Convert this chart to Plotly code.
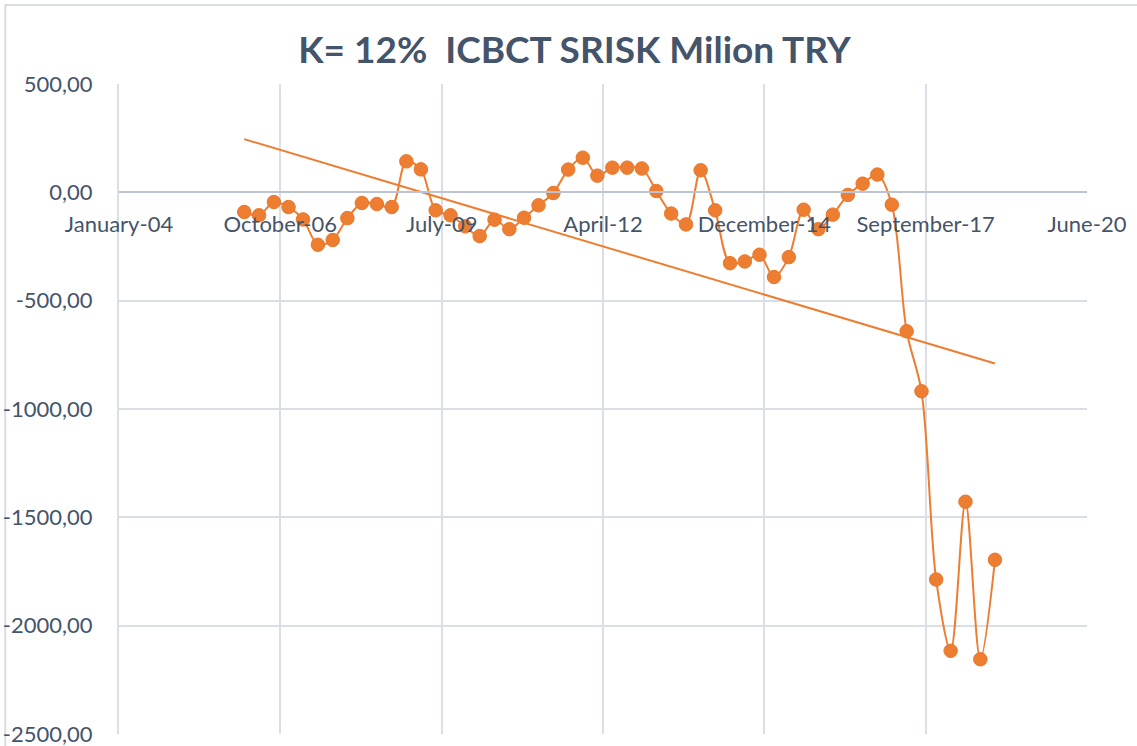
import numpy as np
import pandas as pd
import plotly.graph_objects as go

# ---- data ----
years = list(range(2006, 2019))
month_ends = ["02-28", "05-31", "08-31", "11-30"]
dates = [f"{y}-{m}" for y in years for m in month_ends]  # quarterly observations

srisk = [
    -91, -106, -45, -68, -125, -242, -220, -119, -49, -54,
    -68, 143, 106, -83, -106, -157, -202, -126, -170, -117,
    -60, -3, 105, 160, 77, 114, 114, 110, 6, -98,
    -148, 102, -83, -327, -319, -288, -391, -299, -80, -170,
    -103, -12, 40, 82, -57, -641, -918, -1787, -2116, -1428,
    -2155, -1696,
]

x_tick_dates = ["2004-01-13", "2006-10-10", "2009-07-07", "2012-04-03",
                "2014-12-30", "2017-09-26", "2020-06-23"]
x_tick_labels = ["January-04", "October-06", "July-09", "April-12",
                 "December-14", "September-17", "June-20"]

y_tick_vals = [500, 0, -500, -1000, -1500, -2000, -2500]
y_tick_labels = ["500,00", "0,00", "-500,00", "-1000,00", "-1500,00", "-2000,00", "-2500,00"]

title_text = "K= 12%  ICBCT SRISK Milion TRY"

# ---- linear trend (as Excel trendline, on date serials) ----
dt = pd.to_datetime(dates)
days = (dt - pd.Timestamp("1900-01-01")).days.values.astype(float)
slope, intercept = np.polyfit(days, np.array(srisk, dtype=float), 1)
trend_x = [dates[0], dates[-1]]
trend_y = [slope * days[0] + intercept, slope * days[-1] + intercept]

ORANGE = "#ED7D31"
GRID = "#D9DEE7"
TEXT = "#44546A"
FONT = "Lato"

fig = go.Figure()
fig.add_trace(go.Scatter(
    x=dates, y=srisk, mode="lines+markers",
    line=dict(color=ORANGE, width=2, shape="spline", smoothing=0.9),
    marker=dict(color=ORANGE, size=13.5, line=dict(color="#E8782C", width=1)),
    showlegend=False, hoverinfo="x+y",
))
fig.add_trace(go.Scatter(
    x=trend_x, y=trend_y, mode="lines",
    line=dict(color=ORANGE, width=2),
    showlegend=False, hoverinfo="skip",
))

fig.update_layout(
    width=1137, height=746,
    margin=dict(l=119, r=50, t=84, b=12, autoexpand=False),
    paper_bgcolor="white", plot_bgcolor="white",
    title=dict(text=title_text, x=574.5 / 1137, xref="container", xanchor="center",
               y=1 - 50 / 746, yanchor="middle",
               font=dict(family=FONT, size=37, color=TEXT, weight="bold")),
    font=dict(family=FONT, color=TEXT, size=22),
)

fig.update_xaxes(
    type="date", automargin=False,
    range=[x_tick_dates[0], x_tick_dates[-1]],
    tickmode="array", tickvals=x_tick_dates, ticktext=x_tick_labels,
    showgrid=True, gridcolor=GRID, gridwidth=2,
    showline=True, linecolor="#BCC4D2", linewidth=2,
    anchor="free", position=(0 - (-2500)) / 3000,
    ticks="", ticklabelstandoff=12, ticklabeloverflow="allow",
    tickfont=dict(family=FONT, size=22, color=TEXT),
    zeroline=False,
)
fig.update_yaxes(
    automargin=False,
    range=[-2500, 500],
    tickmode="array", tickvals=y_tick_vals, ticktext=y_tick_labels,
    showgrid=True, gridcolor=GRID, gridwidth=2,
    showline=True, linecolor=GRID, linewidth=2,
    zeroline=False, ticks="", ticklabelstandoff=20, ticklabeloverflow="allow",
    tickfont=dict(family=FONT, size=22, color=TEXT),
)

# chart-area border (as in the Excel chart frame)
fig.add_shape(type="rect", xref="paper", yref="paper",
              x0=-0.1175, x1=1.1, y0=-0.1, y1=1.1215,
              line=dict(color="#D9DCE1", width=2), layer="below")

fig.write_html("out.html",
               config={"displayModeBar": False},
               post_script="document.body.style.margin='0';document.body.style.overflow='hidden';")
